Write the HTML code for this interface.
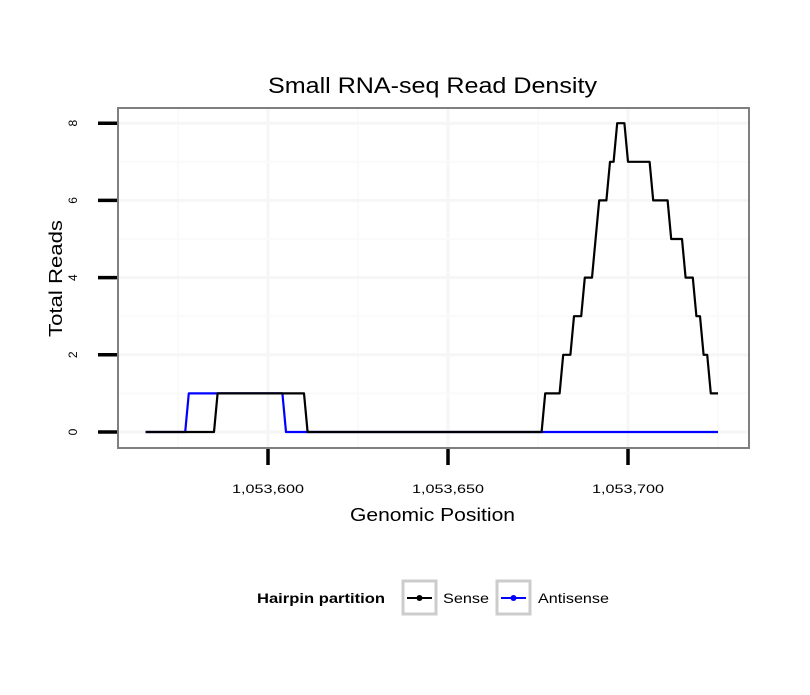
<!DOCTYPE html>
<html><head><meta charset="utf-8"><style>
body{margin:0;background:#fff;}
svg text{font-family:"Liberation Sans",sans-serif;}
</style></head><body>
<svg width="810" height="690" viewBox="0 0 810 690" xmlns="http://www.w3.org/2000/svg">
<text x="268" y="93" font-size="22" textLength="329" lengthAdjust="spacingAndGlyphs">Small RNA-seq Read Density</text>
<g id="grid"></g>
<g id="series"></g>
<rect x="118" y="108" width="631" height="340" fill="none" stroke="#7f7f7f" stroke-width="2"/>
<g id="axes"></g>
<text x="350" y="521" font-size="18" textLength="165" lengthAdjust="spacingAndGlyphs">Genomic Position</text>
<text transform="translate(62,337) rotate(-90)" font-size="18" textLength="117" lengthAdjust="spacingAndGlyphs">Total Reads</text>
<g>
<text x="257" y="603" font-size="14" font-weight="bold" textLength="128" lengthAdjust="spacingAndGlyphs">Hairpin partition</text>
<g>
<rect x="403" y="581" width="33" height="33" fill="#fff" stroke="#cccccc" stroke-width="3"/>
<line x1="407" y1="598" x2="432" y2="598" stroke="#000" stroke-width="2"/><circle cx="419.5" cy="598" r="3" fill="#000"/>
<text x="443" y="603" font-size="14" textLength="46" lengthAdjust="spacingAndGlyphs">Sense</text></g>
<g>
<rect x="497" y="581" width="33" height="33" fill="#fff" stroke="#cccccc" stroke-width="3"/>
<line x1="501" y1="598" x2="526" y2="598" stroke="#0000ff" stroke-width="2"/><circle cx="513.5" cy="598" r="3" fill="#0000ff"/>
<text x="538" y="603" font-size="14" textLength="71" lengthAdjust="spacingAndGlyphs">Antisense</text></g>
</g>
</svg>
<script>
// run-length data: start positions and values
const senseStarts = [1053566,1053586,1053611,1053677,1053682,1053685,1053688,1053691,1053692,1053695,1053697,1053700,1053707,1053712,1053716,1053719,1053721,1053723];
const senseValues = [0,1,0,1,2,3,4,5,6,7,8,7,6,5,4,3,2,1];
const senseEnd = 1053725;
const antiStarts = [1053566,1053578,1053605];
const antiValues = [0,1,0];
const antiEnd = 1053725;
const xTicks = [1053600,1053650,1053700];
const xTickLabels = ["1,053,600","1,053,650","1,053,700"];
const yTicks = [0,2,4,6,8];
const yTickLabels = ["0","2","4","6","8"];

const NS="http://www.w3.org/2000/svg";
const xs = v => 268 + (v-1053600)*3.6;
const ys = v => 432 - v*38.6;
function mk(tag,attrs,parent){const e=document.createElementNS(NS,tag);for(const k in attrs)e.setAttribute(k,attrs[k]);parent.appendChild(e);return e;}
const grid=document.getElementById('grid'), axes=document.getElementById('axes'), series=document.getElementById('series');
for(let v=1053575; v<=1053725; v+=25){const x=xs(v);
 const l=mk('line',{x1:x,x2:x,y1:109,y2:447,stroke:(v%50===0)?'#f6f6f6':'#fafafa','stroke-width':(v%50===0)?3:2},grid);
 
 }
for(let v=-1; v<=9; v++){const y=ys(v); if(y<109||y>447)continue;
 const l=mk('line',{x1:119,x2:748,y1:y,y2:y,stroke:(v%2===0)?'#f6f6f6':'#fafafa','stroke-width':(v%2===0)?3:2},grid);
 
 }
xTicks.forEach((v,i)=>{const x=xs(v);
 const t=mk('line',{x1:x,x2:x,y1:449,y2:465,stroke:'#000','stroke-width':3.5},axes);
 
 
 const tx=mk('text',{x:x-36,y:493,'font-size':12,textLength:72,lengthAdjust:'spacingAndGlyphs'},axes);tx.textContent=xTickLabels[i];
 
 });
yTicks.forEach((v,i)=>{const y=ys(v);
 const t=mk('line',{x1:98,x2:117,y1:y,y2:y,stroke:'#000','stroke-width':3.5},axes);
 
 
 const tx=mk('text',{transform:`translate(77,${y}) rotate(-90)`,'font-size':12,'text-anchor':'middle'},axes);tx.textContent=yTickLabels[i];
 
 });
function expand(starts,vals,end){const pts=[];for(let p=starts[0];p<=end;p++){let idx=0;for(let j=0;j<starts.length;j++)if(starts[j]<=p)idx=j;pts.push([p,vals[idx]]);}return pts;}
function draw(starts,vals,end,color,name){const pts=expand(starts,vals,end);
 const p=mk('polyline',{points:pts.map(q=>xs(q[0])+','+ys(q[1])).join(' '),fill:'none',stroke:color,'stroke-width':2.2,'stroke-linejoin':'round'},series);
 
 }
draw(antiStarts,antiValues,antiEnd,'#0000ff','antisense-line');
draw(senseStarts,senseValues,senseEnd,'#000000','sense-line');
</script>
</body></html>
